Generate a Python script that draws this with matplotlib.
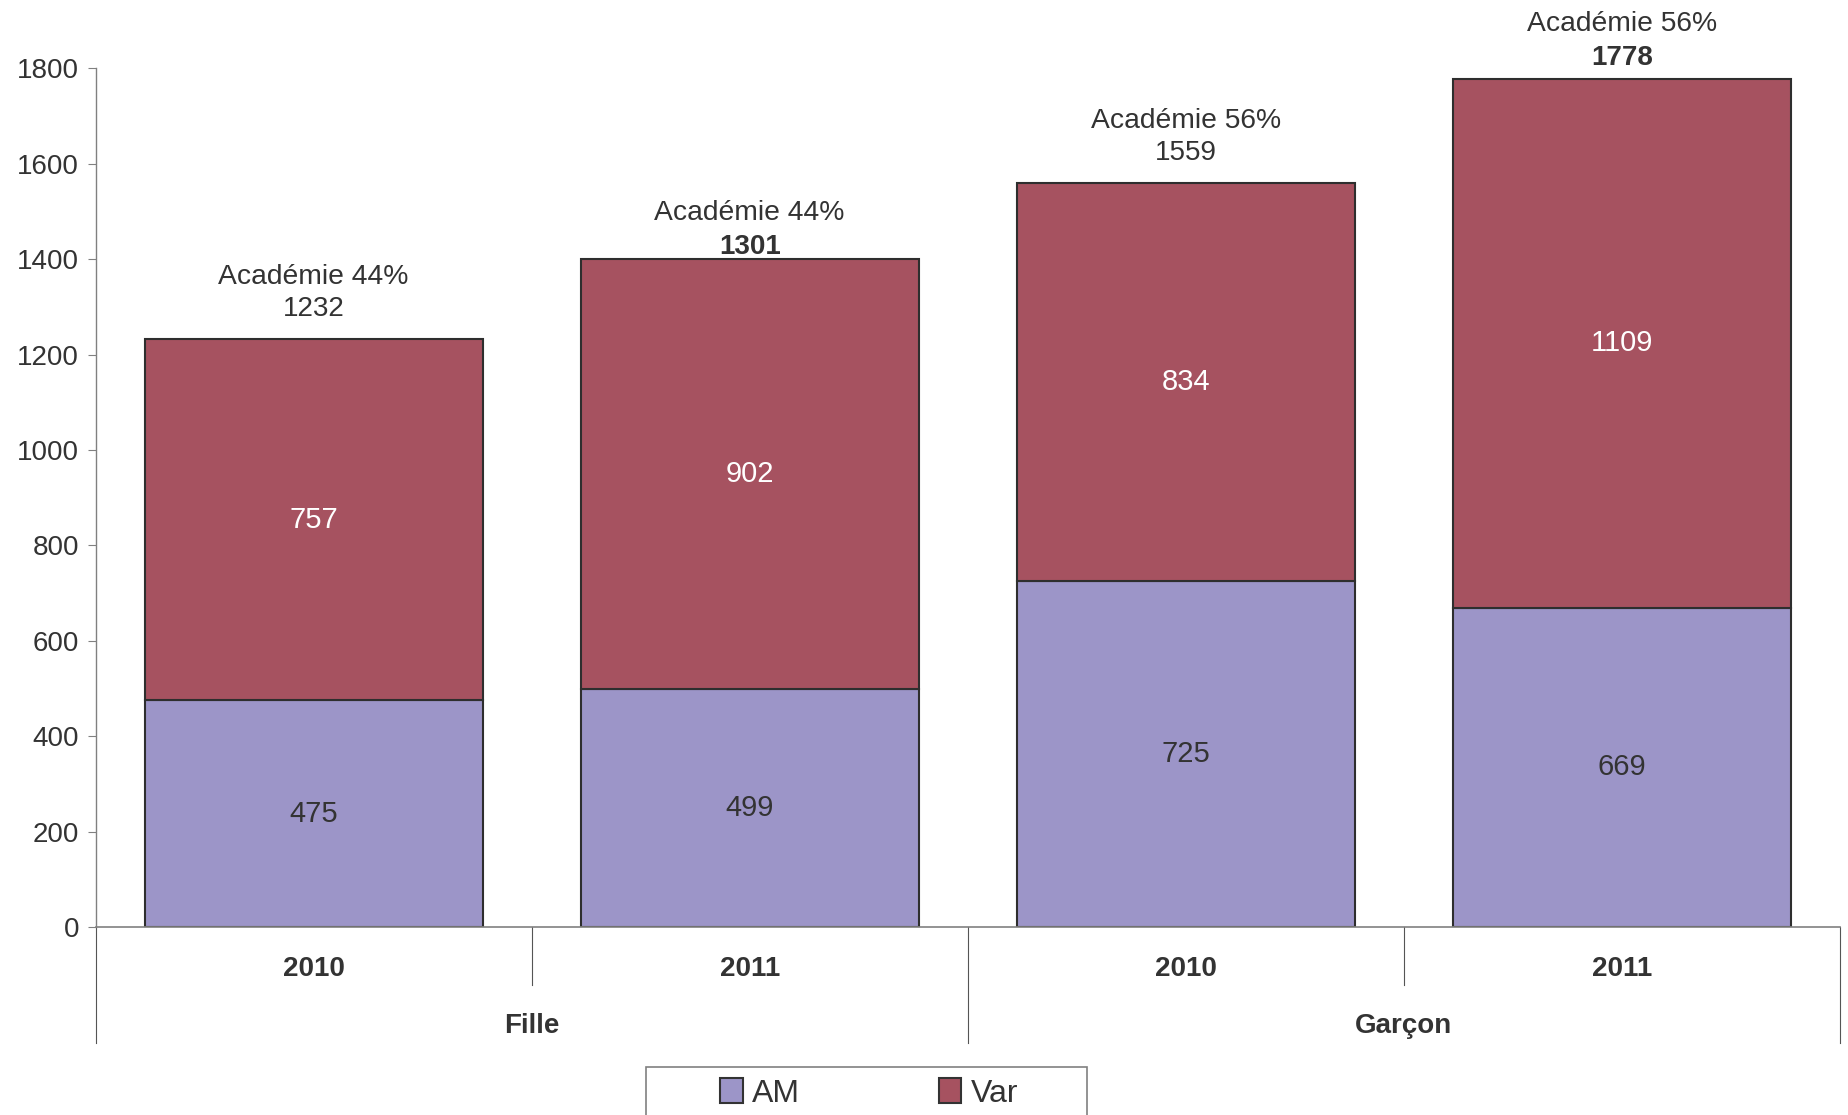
import matplotlib
matplotlib.use("Agg")
from matplotlib import pyplot as plt
from matplotlib.patches import Rectangle, Patch

plt.rcParams['font.family'] = ['Liberation Sans', 'DejaVu Sans']

# donnees
annees = ['2010', '2011', '2010', '2011']
groupes = ['Fille', 'Garçon']
am = [475, 499, 725, 669]
var = [757, 902, 834, 1109]
academie = ['Académie 44%', 'Académie 44%', 'Académie 56%', 'Académie 56%']
totaux = ['1232', '1301', '1559', '1778']
totaux_gras = [False, True, False, True]
yticks = [0, 200, 400, 600, 800, 1000, 1200, 1400, 1600, 1800]

c_am = '#9c95c8'
c_var = '#a65260'
c_txt = '#333333'

# decalage (points) des etiquettes au-dessus des barres
dec_total = [21.5, 8.2, 21.5, 15]
dec_acad = [45.2, 32.6, 45.2, 39.4]

fig = plt.figure(figsize=(18.49, 11.15), dpi=100)
ax = fig.add_axes([0.0517, 0.1686, 0.9433, 0.7701])

x = list(range(len(am)))
ax.bar(x, am, width=0.775, color=c_am, edgecolor='#2e2e2e', linewidth=1.5, zorder=2)
ax.bar(x, var, width=0.775, bottom=am, color=c_var, edgecolor='#2e2e2e', linewidth=1.5, zorder=2)

for i in x:
    ax.text(i, am[i] / 2, str(am[i]), ha='center', va='center', fontsize=21, color=c_txt)
    ax.text(i, am[i] + var[i] / 2, str(var[i]), ha='center', va='center', fontsize=21, color='white')
    top = am[i] + var[i]
    ax.annotate(totaux[i], (i, top), xytext=(0, dec_total[i]), textcoords='offset points',
                ha='center', va='center', fontsize=20, color=c_txt,
                fontweight='bold' if totaux_gras[i] else 'normal', annotation_clip=False)
    ax.annotate(academie[i], (i, top), xytext=(0, dec_acad[i]), textcoords='offset points',
                ha='center', va='center', fontsize=20.3, color=c_txt, annotation_clip=False)

ax.set_xlim(-0.5, 3.5)
ax.set_ylim(0, 1800)
ax.set_yticks(yticks)
ax.tick_params(axis='y', labelsize=20, labelcolor=c_txt, length=6, color='#808080', pad=6)
ax.tick_params(axis='x', bottom=False, labelbottom=False)
for s in ['top', 'right']:
    ax.spines[s].set_visible(False)
ax.spines['left'].set_color('#808080')
ax.spines['bottom'].set_color('#808080')
ax.spines['left'].set_linewidth(1)
ax.spines['bottom'].set_linewidth(1.2)

# axe x a deux niveaux
tr = ax.get_xaxis_transform()
for i in x:
    ax.text(i, -0.0494, annees[i], transform=tr, ha='center', va='center',
            fontsize=20, fontweight='bold', color=c_txt)
for k, g in enumerate(groupes):
    ax.text(2 * k + 0.5, -0.1154, g, transform=tr, ha='center', va='center',
            fontsize=20, fontweight='bold', color=c_txt)
for xs in [0.5, 2.5]:
    ax.plot([xs, xs], [0, -0.0673], transform=tr, color='#555555', lw=0.8, clip_on=False)
for xs in [-0.5, 1.5, 3.5]:
    ax.plot([xs, xs], [0, -0.1346], transform=tr, color='#555555', lw=0.8, clip_on=False)

# legende
fig.patches.append(Rectangle((0.3494, -0.02), 0.2385, 0.063, transform=fig.transFigure,
                             facecolor='white', edgecolor='#808080', lw=1.2))
handles = [Patch(facecolor=c_am, edgecolor='#333333', lw=1.5, label='AM'),
           Patch(facecolor=c_var, edgecolor='#333333', lw=1.5, label='Var')]
fig.legend(handles=handles, loc='center', bbox_to_anchor=(0.4702, 0.0196), ncol=2,
           frameon=False, fontsize=23, handlelength=0.7, handleheight=0.85,
           handletextpad=0.3, columnspacing=4.35, labelcolor=c_txt)

fig.savefig('out.png', dpi=100)
